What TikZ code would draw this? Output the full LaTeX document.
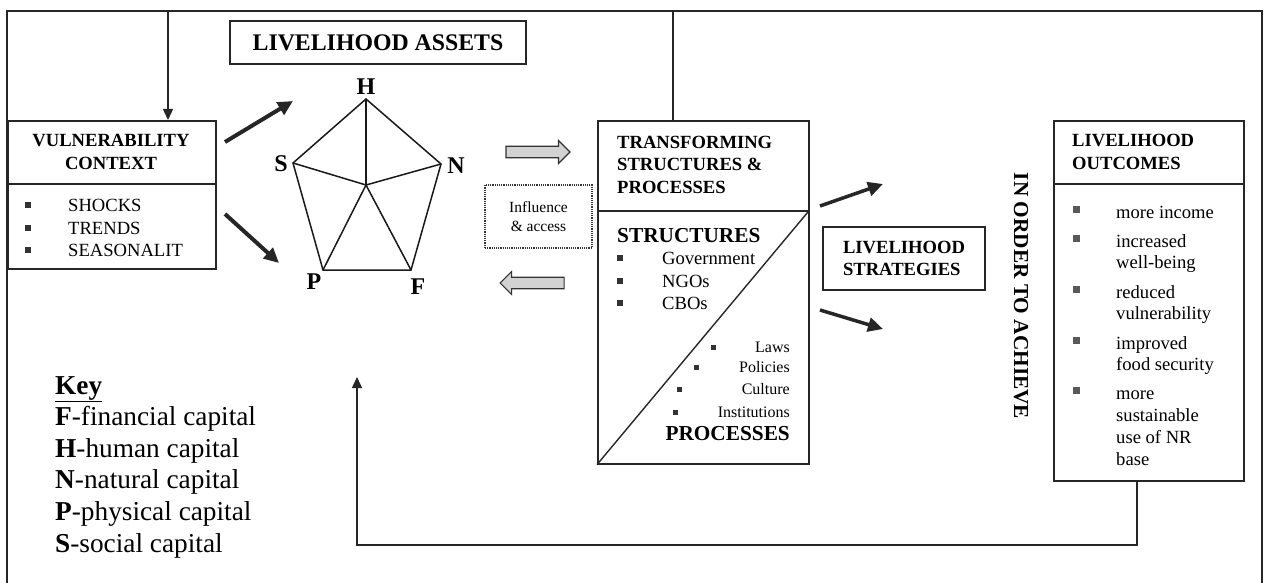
\documentclass[tikz,border=0pt]{standalone}
\usepackage{fontspec}
\setmainfont{Liberation Serif}
\usetikzlibrary{arrows.meta,shapes.arrows}

\newcommand{\fs}[1]{\fontsize{#1}{1.2\dimexpr#1pt\relax}\selectfont}

\tikzset{
  frame/.style={line width=1.6pt, black!85},
  boxx/.style={draw=black!85, line width=1.6pt, inner sep=0pt, anchor=north west},
  head/.style={font=\fontsize{18.6}{22.5}\selectfont\bfseries, inner sep=0pt, align=left},
  body/.style={font=\fontsize{18.6}{21.7}\selectfont, inner sep=0pt, align=left},
  small/.style={font=\fontsize{16}{19}\selectfont, inner sep=0pt},
  bul/.style={fill=black!80, minimum size=5.5pt, inner sep=0pt},
  obul/.style={fill=black!65, minimum size=7pt, inner sep=0pt},
  fat/.style={line width=4pt, black!85, -{Triangle[length=15pt,width=14pt]}},
  thin/.style={line width=1.5pt, black!85, -{Triangle[length=11pt,width=10pt]}},
  blockarrow/.style={single arrow, draw=black!80, line width=1.2pt, fill=gray!35,
    minimum height=64pt, minimum width=23pt, inner xsep=2pt, inner ysep=5pt,
    single arrow head extend=5.5pt, single arrow tip angle=90},
  pent/.style={line width=1.5pt, black!90},
  vert/.style={font=\fs{24}\bfseries, inner sep=0pt},
}

\begin{document}
\begin{tikzpicture}[x=1pt,y=-1pt]
\useasboundingbox (0,0) rectangle (1268,583);

% outer frame
\draw[frame] (7,583) -- (7,11) -- (1262,11) -- (1262,583);

% vulnerability context
\node[boxx, minimum width=208pt, minimum height=63pt] (vulH) at (7,120) {};
\node[boxx, minimum width=208pt, minimum height=85pt] (vulB) at (7,183) {};
\node[head, align=center] (vulT) at (111,152) {VULNERABILITY\\CONTEXT};
\foreach \y/\t [count=\i] in {205/SHOCKS,228/TRENDS,250/SEASONALIT}{
  \node[bul] (vb\i) at (28,\y) {};
  \node[body, anchor=west] (vt\i) at (68,\y) {\t};
}

% livelihood assets
\node[draw=black!85, line width=1.6pt, minimum width=296pt, minimum height=43pt,
      font=\fs{23.8}\bfseries] (assets) at (378,42.5) {LIVELIHOOD ASSETS};

% asset pentagon
\coordinate (vH) at (366,99);
\coordinate (vS) at (293,163);
\coordinate (vN) at (441,164);
\coordinate (vP) at (323,270);
\coordinate (vF) at (411,270);
\coordinate (vC) at (366,185);
\draw[pent, line join=miter] (vH) -- (vN) -- (vF) -- (vP) -- (vS) -- cycle;
\foreach \v in {vH,vS,vN,vP,vF} \draw[pent] (vC) -- (\v);
\node[vert] (lH) at (366,87) {H};
\node[vert] (lS) at (281,164) {S};
\node[vert] (lN) at (456,166) {N};
\node[vert] (lP) at (314,282) {P};
\node[vert] (lF) at (418,287) {F};

% arrows from vulnerability to assets
\coordinate (a1s) at (225,142);
\coordinate (a1e) at (293,101);
\coordinate (a2s) at (225,214);
\coordinate (a2e) at (279,263);
\draw[fat] (a1s) -- (a1e);
\draw[fat] (a2s) -- (a2e);

% influence and access
\node[blockarrow] (toT) at (535,152) {};
\node[blockarrow, shape border rotate=180] (fromT) at (535,283) {};
\node[draw=black!80, densely dotted, line width=1.2pt, minimum width=107pt,
      minimum height=63pt, align=center, font=\fontsize{15.5}{19}\selectfont]
      (infl) at (538.5,216.5) {Influence\\\& access};

% transforming structures and processes
\node[boxx, minimum width=211pt, minimum height=90pt] (trH) at (597,120) {};
\node[boxx, minimum width=211pt, minimum height=253pt] (trB) at (597,210) {};
\draw[line width=1.4pt, black!85] (trB.south west) -- (trB.north east);
\node[head, anchor=west] (trT) at (617,164.5) {TRANSFORMING\\STRUCTURES \&\\PROCESSES};
\node[font=\fs{21.3}\bfseries, inner sep=0pt, anchor=west] (struct) at (617,236) {STRUCTURES};
\foreach \y/\t [count=\i] in {258/Government,281/NGOs,303/CBOs}{
  \node[bul] (sb\i) at (620,\y) {};
  \node[body, anchor=west] (st\i) at (662,\y) {\t};
}
\foreach \y/\x/\t [count=\i] in {347/713/Laws,367/696/Policies,389/679/Culture,412/675/Institutions}{
  \node[bul, minimum size=5pt] (pb\i) at (\x,\y) {};
  \node[small, anchor=east] (pt\i) at (790,\y) {\t};
}
\node[font=\fs{21.3}\bfseries, inner sep=0pt, anchor=east] (proc) at (790,434) {PROCESSES};

% livelihood strategies
\coordinate (b1s) at (820,206);
\coordinate (b1e) at (883,184);
\coordinate (b2s) at (820,310);
\coordinate (b2e) at (883,329);
\draw[fat, line width=3.5pt] (b1s) -- (b1e);
\draw[fat, line width=3.5pt] (b2s) -- (b2e);
\node[draw=black!85, line width=1.6pt, minimum width=162pt, minimum height=63pt,
      head] (strat) at (904,258.5) {LIVELIHOOD\\STRATEGIES};

\node[font=\fs{21.3}\bfseries, inner sep=0pt, rotate=-90] (achieve) at (1021,296) {IN ORDER TO ACHIEVE};

% livelihood outcomes
\node[boxx, minimum width=190pt, minimum height=63pt] (outH) at (1053,120) {};
\node[boxx, minimum width=190pt, minimum height=297pt] (outB) at (1053,183) {};
\node[head, anchor=west] (outT) at (1072,152) {LIVELIHOOD\\OUTCOMES};
\node[obul] (ob1) at (1076,209) {};
\node[obul] (ob2) at (1076,238) {};
\node[obul] (ob3) at (1076,289) {};
\node[obul] (ob4) at (1076,340) {};
\node[obul] (ob5) at (1076,390) {};
\node[body, anchor=west] (ot1) at (1116,212) {more income};
\node[body, anchor=north west] (ot2) at (1116,234) {increased\\well-being};
\node[body, anchor=north west] (ot3) at (1116,285) {reduced\\vulnerability};
\node[body, anchor=north west] (ot4) at (1116,336) {improved\\food security};
\node[body, anchor=north west] (ot5) at (1116,391) {more\\sustainable\\use of NR\\base};

% feedback loops
\coordinate (topT) at (673,11);
\coordinate (topV) at (168,11);
\draw[line width=1.5pt, black!85] (trH.north -| topT) -- (topT) -- (topV);
\draw[thin] (topV) -- (vulH.north -| topV);
\coordinate (fbCorner) at (1137,545);
\coordinate (fbEnd) at (357,377);
\draw[thin] (outB.south -| fbCorner) -- (fbCorner) -| (fbEnd);

% key
\node[font=\fontsize{27.3}{31.6}\selectfont, inner sep=0pt, align=left, anchor=west] (key) at (55,467)
  {\underline{\textbf{Key}}\\\textbf{F}-financial capital\\\textbf{H}-human capital\\\textbf{N}-natural capital\\\textbf{P}-physical capital\\\textbf{S}-social capital};
\end{tikzpicture}
\end{document}
